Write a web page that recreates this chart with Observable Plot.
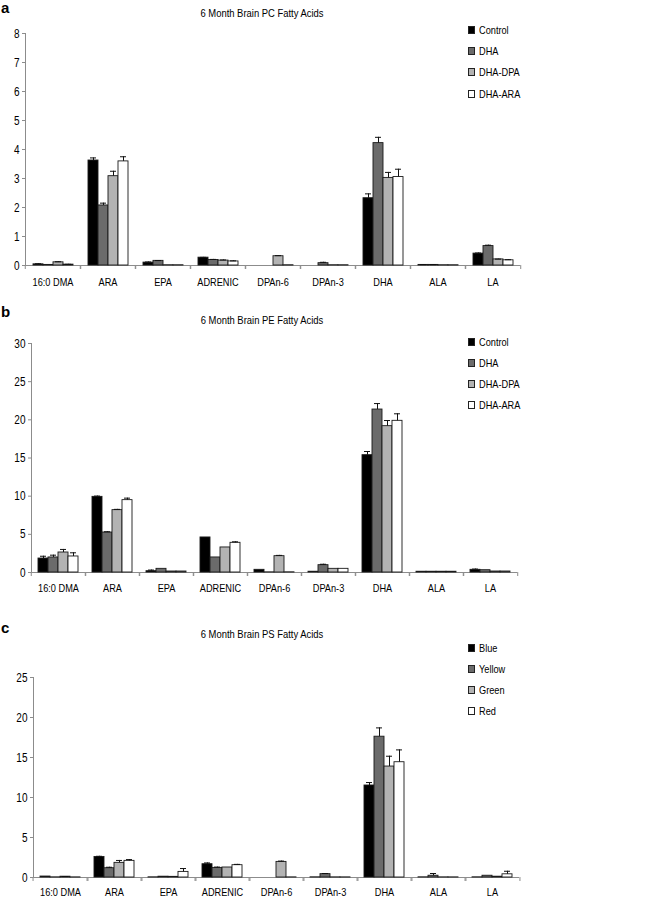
<!DOCTYPE html>
<html><head><meta charset="utf-8">
<script src="https://cdn.jsdelivr.net/npm/d3@7"></script>
<script src="https://cdn.jsdelivr.net/npm/@observablehq/plot@0.6"></script>
<style>
body{margin:0;background:#fff;}
#wrap{position:relative;width:660px;height:899px;overflow:hidden;background:#fff;
  font-family:"Liberation Sans",Arial,sans-serif;color:#000;}
.abs{position:absolute;white-space:nowrap;line-height:13px;}
.title{font-size:11.5px;transform:translateX(-50%) scaleX(0.82);transform-origin:center;}
.letter{font-weight:bold;font-size:15px;line-height:16px;}
.leg{font-size:11.5px;display:flex;align-items:center;}
.leg span.t{display:inline-block;transform:scaleX(0.8);transform-origin:left center;}
.sw{display:inline-block;width:5px;height:6px;border:1px solid #222;margin-right:4px;}
svg{position:absolute;left:0;}
</style></head><body><div id="wrap"></div>
<script>
// ---------- data ----------
const categories = ["16:0 DMA","ARA","EPA","ADRENIC","DPAn-6","DPAn-3","DHA","ALA","LA"];
const seriesAB = ["Control","DHA","DHA-DPA","DHA-ARA"];
const seriesC = ["Blue","Yellow","Green","Red"];
const panelLetters = ["a","b","c"];
const panelTitles = ["6 Month Brain PC Fatty Acids","6 Month Brain PE Fatty Acids","6 Month Brain PS Fatty Acids"];
const yTicksA = [0,1,2,3,4,5,6,7,8];
const yTicksB = [0,5,10,15,20,25,30];
const yTicksC = [0,5,10,15,20,25];

// PC (panel a): one row per series, one value per category
const pcValues = [
  [0.04, 3.62, 0.10, 0.27, 0.00, 0.00, 2.32, 0.02, 0.41],
  [0.02, 2.07, 0.16, 0.19, 0.00, 0.08, 4.22, 0.02, 0.67],
  [0.11, 3.08, 0.01, 0.17, 0.32, 0.01, 3.02, 0.01, 0.21],
  [0.03, 3.59, 0.01, 0.14, 0.01, 0.01, 3.05, 0.01, 0.18]
];
const pcErrors = [
  [0.02, 0.09, 0.02, 0.01, 0.00, 0.00, 0.15, 0.01, 0.02],
  [0.00, 0.08, 0.01, 0.02, 0.00, 0.03, 0.20, 0.01, 0.03],
  [0.02, 0.17, 0.00, 0.02, 0.02, 0.00, 0.19, 0.00, 0.01],
  [0.01, 0.16, 0.00, 0.02, 0.00, 0.00, 0.27, 0.00, 0.02]
];
// PE (panel b)
const peValues = [
  [1.83, 9.91, 0.17, 4.59, 0.35, 0.10, 15.37, 0.10, 0.35],
  [1.97, 5.24, 0.48, 1.97, 0.02, 0.96, 21.35, 0.10, 0.30],
  [2.62, 8.17, 0.13, 3.28, 2.14, 0.48, 19.17, 0.10, 0.13],
  [2.10, 9.48, 0.13, 3.89, 0.03, 0.48, 19.87, 0.10, 0.13]
];
const peErrors = [
  [0.30, 0.10, 0.15, 0.00, 0.00, 0.00, 0.48, 0.00, 0.10],
  [0.30, 0.10, 0.00, 0.00, 0.00, 0.12, 0.78, 0.00, 0.00],
  [0.40, 0.10, 0.00, 0.00, 0.10, 0.00, 0.74, 0.00, 0.00],
  [0.48, 0.26, 0.00, 0.13, 0.00, 0.00, 0.92, 0.00, 0.00]
];
// PS (panel c)
const psValues = [
  [0.12, 2.57, 0.02, 1.66, 0.00, 0.02, 11.50, 0.02, 0.02],
  [0.02, 1.16, 0.10, 1.20, 0.00, 0.42, 17.60, 0.22, 0.22],
  [0.10, 1.83, 0.08, 1.25, 1.95, 0.02, 13.87, 0.02, 0.10],
  [0.02, 2.08, 0.70, 1.54, 0.02, 0.02, 14.41, 0.02, 0.40]
];
const psErrors = [
  [0.00, 0.08, 0.00, 0.16, 0.00, 0.00, 0.37, 0.00, 0.00],
  [0.00, 0.12, 0.00, 0.10, 0.00, 0.08, 1.10, 0.28, 0.00],
  [0.02, 0.30, 0.00, 0.00, 0.10, 0.00, 1.29, 0.00, 0.00],
  [0.00, 0.16, 0.42, 0.10, 0.00, 0.00, 1.54, 0.00, 0.38]
];

// ---------- styling / layout ----------
const barColors = ["#000000","#6b6b6b","#b3b3b3","#ffffff"];
const FONT = `"Liberation Sans",Arial,sans-serif`;
const AXIS = "#8c8c8c";
const panels = [
  {series: seriesAB, values: pcValues, errors: pcErrors, ticks: yTicksA, ymax: 8,
   svgTop: 0, h: 295, yTop: 33, yBot: 265, left: 23, right: 522, pad: 12,
   titleY: 13, letterY: 8, legY: [30, 51, 72, 94]},
  {series: seriesAB, values: peValues, errors: peErrors, ticks: yTicksB, ymax: 30,
   svgTop: 295, h: 300, yTop: 343, yBot: 572, left: 29, right: 519, pad: 11,
   titleY: 320, letterY: 312, legY: [342, 363, 384, 405]},
  {series: seriesC, values: psValues, errors: psErrors, ticks: yTicksC, ymax: 25,
   svgTop: 595, h: 304, yTop: 677, yBot: 877, left: 29, right: 523, pad: 10,
   titleY: 634, letterY: 628, legY: [648, 669, 690, 711]}
];

const wrap = document.getElementById("wrap");

panels.forEach((p, pi) => {
  const rows = [];
  p.series.forEach((s, si) => categories.forEach((c, ci) => {
    rows.push({cat: c, series: s, value: p.values[si][ci], err: p.errors[si][ci]});
  }));
  const errRows = rows.filter(d => d.err > 0);
  const step = (p.right - p.left) / categories.length;
  const chart = Plot.plot({
    width: 660, height: p.h,
    marginTop: p.yTop - p.svgTop, marginBottom: p.svgTop + p.h - p.yBot,
    marginLeft: p.left, marginRight: 660 - p.right,
    style: {fontFamily: FONT, fontSize: "11.5px", color: "#000", background: "transparent", overflow: "visible"},
    fx: {domain: categories, padding: 0, label: null},
    x: {domain: p.series, paddingInner: 0, paddingOuter: 0.7, axis: null},
    y: {domain: [0, p.ymax], label: null},
    color: {domain: p.series, range: barColors},
    marks: [
      Plot.frame({anchor: "left", facetAnchor: "left", stroke: AXIS}),
      Plot.axisY({ticks: p.ticks, tickSize: 3, tickPadding: 3, stroke: AXIS, fontSize: 12.5, label: null}),
      Plot.axisFx({anchor: "bottom", tickSize: 0, tickPadding: p.pad, label: null}),
      Plot.axisFx({anchor: "bottom", tickSize: 4, dx: -step / 2, tickFormat: () => "", label: null, stroke: AXIS}),
      Plot.axisFx([categories[categories.length - 1]], {anchor: "bottom", tickSize: 4, dx: step / 2, tickFormat: () => "", label: null, stroke: AXIS}),
      Plot.ruleY([0], {stroke: AXIS}),
      Plot.barY(rows, {fx: "cat", x: "series", y: "value", fill: {value: "series", scale: "color"}, stroke: "#1a1a1a", strokeWidth: 0.9}),
      Plot.ruleX(errRows, {fx: "cat", x: "series", y1: "value", y2: d => d.value + d.err, stroke: "#111"}),
      Plot.tickY(errRows, {fx: "cat", x: "series", y: d => d.value + d.err, stroke: "#111", insetLeft: 2, insetRight: 2})
    ]
  });
  chart.style.top = p.svgTop + "px";
  wrap.appendChild(chart);
  // condense the svg texts to mimic the narrow face of the original
  chart.querySelectorAll("text").forEach(el => {
    const w = el.getComputedTextLength();
    if (w > 0) {
      el.setAttribute("textLength", (w * 0.8).toFixed(2));
      el.setAttribute("lengthAdjust", "spacingAndGlyphs");
    }
  });

  const t = document.createElement("div");
  t.className = "abs title";
  t.textContent = panelTitles[pi];
  t.style.left = "262px";
  t.style.top = (p.titleY - 6.5) + "px";
  wrap.appendChild(t);

  const l = document.createElement("div");
  l.className = "abs letter";
  l.textContent = panelLetters[pi];
  l.style.left = "1px";
  l.style.top = (p.letterY - 8) + "px";
  wrap.appendChild(l);

  p.series.forEach((s, si) => {
    const row = document.createElement("div");
    row.className = "abs leg";
    row.style.left = "468px";
    row.style.top = (p.legY[si] - 6.5) + "px";
    const sw = document.createElement("span");
    sw.className = "sw";
    sw.style.background = barColors[si];
    row.appendChild(sw);
    const tx = document.createElement("span");
    tx.className = "t";
    tx.textContent = s;
    row.appendChild(tx);
    wrap.appendChild(row);
  });
});
</script></body></html>
